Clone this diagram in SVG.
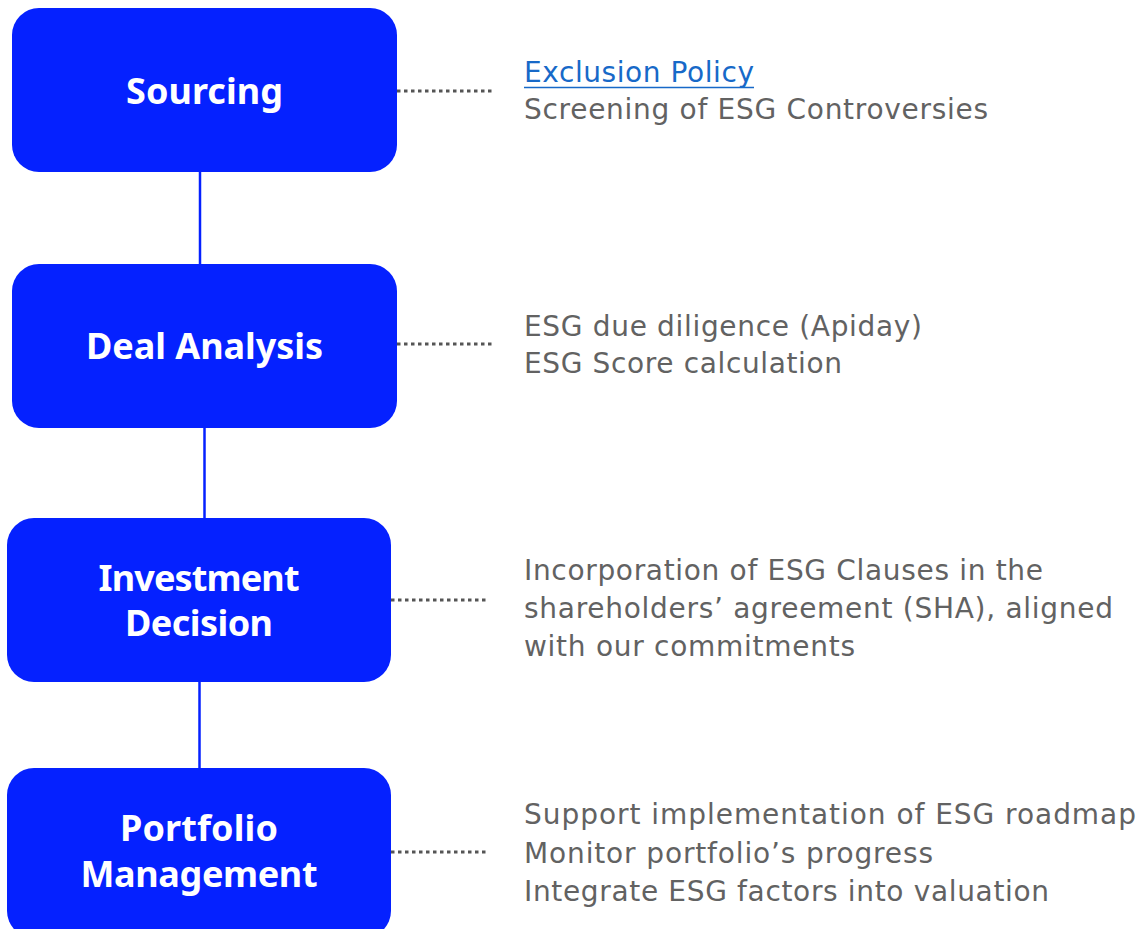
<svg xmlns="http://www.w3.org/2000/svg" width="1146" height="929" viewBox="0 0 1146 929">
<style>
.box{fill:#0521ff;}
.lbl{font-family:"Noto Sans","DejaVu Sans",sans-serif;font-weight:bold;font-size:36px;fill:#ffffff;text-anchor:middle;}
.txt{font-family:"DejaVu Sans","Noto Sans",sans-serif;font-size:28px;fill:#626262;}
.link{fill:#1769c8;}
.vline{stroke:#0521ff;stroke-width:2.5;fill:none;}
.dot{stroke:#555555;stroke-width:3;stroke-dasharray:3.5 3.5;fill:none;}
</style>
<rect width="1146" height="929" fill="#ffffff"/>
<g id="connectors">
<line class="vline" x1="200" y1="170" x2="200" y2="266"/>
<line class="vline" x1="204.5" y1="426" x2="204.5" y2="521"/>
<line class="vline" x1="199.5" y1="680" x2="199.5" y2="770"/>
<line class="dot" x1="397" y1="91" x2="495" y2="91"/>
<line class="dot" x1="397" y1="344" x2="495" y2="344"/>
<line class="dot" x1="391" y1="600" x2="489" y2="600"/>
<line class="dot" x1="391" y1="852" x2="489" y2="852"/>
</g>
<g id="node-sourcing">
<rect class="box" x="12" y="8" width="385" height="164" rx="27"/>
<text class="lbl" x="204.5" y="104" textLength="157">Sourcing</text>
</g>
<g id="node-deal-analysis">
<rect class="box" x="12" y="264" width="385" height="164" rx="27"/>
<text class="lbl" x="204.5" y="359" textLength="237">Deal Analysis</text>
</g>
<g id="node-investment-decision">
<rect class="box" x="7" y="518" width="384" height="164" rx="27"/>
<text class="lbl" x="199" y="591" textLength="201">Investment</text>
<text class="lbl" x="199" y="636" textLength="148">Decision</text>
</g>
<g id="node-portfolio-management">
<rect class="box" x="7" y="768" width="384" height="170" rx="27"/>
<text class="lbl" x="199" y="841" textLength="158">Portfolio</text>
<text class="lbl" x="199" y="887" textLength="237">Management</text>
</g>
<g id="text-sourcing">
<text class="txt link" x="524" y="82" textLength="230">Exclusion Policy</text>
<line x1="524" y1="87.5" x2="754" y2="87.5" stroke="#1769c8" stroke-width="1.6"/>
<text class="txt" x="524" y="119" textLength="464">Screening of ESG Controversies</text>
</g>
<g id="text-deal">
<text class="txt" x="524" y="336" textLength="398">ESG due diligence (Apiday)</text>
<text class="txt" x="524" y="373" textLength="318">ESG Score calculation</text>
</g>
<g id="text-investment">
<text class="txt" x="524" y="580" textLength="519">Incorporation of ESG Clauses in the</text>
<text class="txt" x="524" y="618" textLength="589">shareholders’ agreement (SHA), aligned</text>
<text class="txt" x="524" y="656" textLength="331">with our commitments</text>
</g>
<g id="text-portfolio">
<text class="txt" x="524" y="824" textLength="612">Support implementation of ESG roadmap</text>
<text class="txt" x="524" y="863" textLength="409">Monitor portfolio’s progress</text>
<text class="txt" x="524" y="901" textLength="525">Integrate ESG factors into valuation</text>
</g>
</svg>
